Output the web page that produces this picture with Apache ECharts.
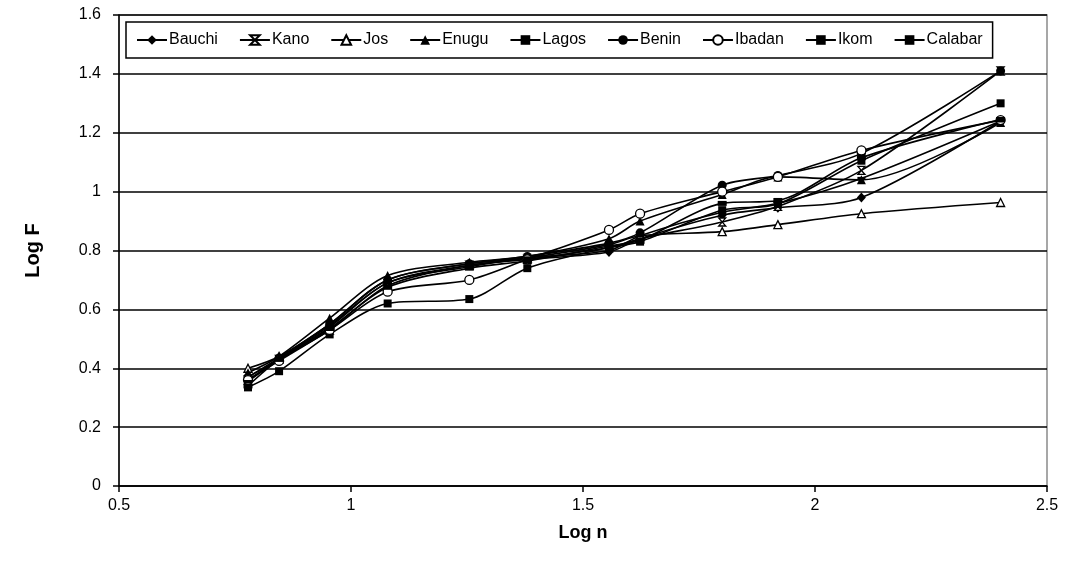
<!DOCTYPE html>
<html>
<head>
<meta charset="utf-8">
<script src="https://cdn.jsdelivr.net/npm/echarts@6/dist/echarts.min.js"></script>
<style>html,body{margin:0;padding:0;background:#fff;}#c{width:1069px;height:563px;}</style>
</head>
<body>
<div id="c"></div>
<script>
const logN = [0.778, 0.845, 0.954, 1.079, 1.255, 1.380, 1.556, 1.623, 1.800, 1.920, 2.100, 2.400];
const bauchi  = [0.370, 0.430, 0.540, 0.690, 0.750, 0.770, 0.795, 0.840, 0.920, 0.945, 0.980, 1.240];
const kano    = [0.360, 0.430, 0.530, 0.680, 0.750, 0.770, 0.810, 0.840, 0.897, 0.950, 1.072, 1.410];
const jos     = [0.400, 0.440, 0.550, 0.700, 0.755, 0.775, 0.820, 0.850, 0.864, 0.888, 0.925, 0.963];
const enugu   = [0.385, 0.440, 0.570, 0.715, 0.760, 0.780, 0.840, 0.900, 0.990, 1.050, 1.040, 1.235];
const lagos   = [0.335, 0.390, 0.515, 0.620, 0.635, 0.740, 0.810, 0.830, 0.937, 0.958, 1.105, 1.300];
const benin   = [0.370, 0.435, 0.550, 0.700, 0.755, 0.780, 0.825, 0.860, 1.022, 1.055, 1.130, 1.410];
const ibadan  = [0.360, 0.425, 0.530, 0.660, 0.700, 0.770, 0.870, 0.925, 1.000, 1.050, 1.140, 1.243];
const ikom    = [0.355, 0.430, 0.545, 0.690, 0.745, 0.775, 0.800, 0.850, 0.930, 0.960, 1.045, 1.240];
const calabar = [0.340, 0.430, 0.535, 0.675, 0.740, 0.765, 0.815, 0.835, 0.960, 0.970, 1.115, 1.245];

const seriesNames = ['Bauchi','Kano','Jos','Enugu','Lagos','Benin','Ibadan','Ikom','Calabar'];
const seriesValues = [bauchi, kano, jos, enugu, lagos, benin, ibadan, ikom, calabar];

const markers = [
  {symbol:'diamond', size:[9,10], fill:'#000'},
  {symbol:'path://M0,0L10,0L0,10L10,10Z', size:[7,8], fill:'#fff'},
  {symbol:'triangle', size:8, fill:'#fff'},
  {symbol:'triangle', size:9, fill:'#000'},
  {symbol:'rect', size:8, fill:'#000'},
  {symbol:'circle', size:9, fill:'#000'},
  {symbol:'circle', size:9, fill:'#fff'},
  {symbol:'rect', size:[8,3], fill:'#000'},
  {symbol:'rect', size:[9,5], fill:'#000'}
];

const chart = echarts.init(document.getElementById('c'));
const series = seriesNames.map((name, i) => ({
  name: name,
  type: 'line',
  smooth: 0.3,
  data: logN.map((x, j) => [x, seriesValues[i][j]]),
  symbol: markers[i].symbol,
  symbolSize: markers[i].size,
  showAllSymbol: true,
  lineStyle: {color:'#000', width:1.6},
  itemStyle: {color: markers[i].fill, borderColor:'#000', borderWidth: markers[i].fill === '#fff' ? 1.3 : 0},
  emphasis: {disabled:true},
  animation: false,
  z: 3
}));

chart.setOption({
  animation: false,
  backgroundColor: '#fff',
  textStyle: {fontFamily: 'Liberation Sans, Arial, sans-serif'},
  grid: {left:119, right:22, top:15, bottom:77, show:true, borderColor:'#8a8a8a', borderWidth:1.5},
  legend: {
    left: 126, top: 22,
    data: seriesNames,
    itemWidth: 30, itemHeight: 12, itemGap: 21,
    padding: [10, 10],
    borderColor: '#000', borderWidth: 1.5,
    backgroundColor: '#fff',
    textStyle: {color:'#000', fontSize:16, fontFamily:'Liberation Sans, Arial, sans-serif', padding:[0,0,0,-3]},
    z: 10
  },
  xAxis: {
    type: 'value', min: 0.5, max: 2.5, interval: 0.5,
    name: 'Log n', nameLocation: 'middle', nameGap: 38,
    nameTextStyle: {fontSize:18, fontWeight:'bold', color:'#000'},
    axisLine: {lineStyle:{color:'#000', width:1.5}},
    axisTick: {show:true, length:6, lineStyle:{color:'#000', width:1.5}},
    axisLabel: {color:'#000', fontSize:16, margin:12},
    splitLine: {show:false}
  },
  yAxis: {
    type: 'value', min: 0, max: 1.6, interval: 0.2,
    name: 'Log F', nameLocation: 'middle', nameGap: 76, nameRotate: 90,
    nameTextStyle: {fontSize:20, fontWeight:'bold', color:'#000'},
    axisLine: {show:true, lineStyle:{color:'#000', width:1.5}},
    axisTick: {show:true, length:6, lineStyle:{color:'#000', width:1.5}},
    axisLabel: {color:'#000', fontSize:16, margin:18, formatter: v => String(Math.round(v*10)/10)},
    splitLine: {show:true, lineStyle:{color:'#000', width:1.5}}
  },
  series: series
});
</script>
</body>
</html>
